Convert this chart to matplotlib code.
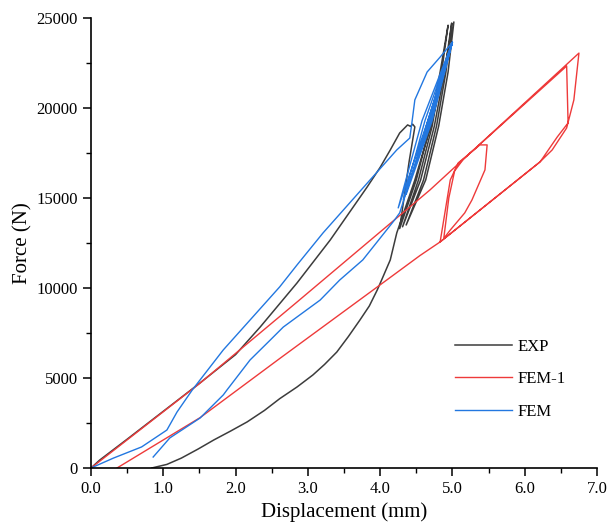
import matplotlib
matplotlib.use("Agg")
import matplotlib.pyplot as plt
from matplotlib.ticker import MultipleLocator, FormatStrFormatter

# ---- EXP (test): first loading, steep cycles, then final unloading ----
exp_x = [0.00, 0.12, 0.50, 1.00, 1.50, 2.00, 2.34, 2.85, 3.31, 3.82, 4.00, 4.14, 4.27, 4.38, 4.42, 4.45, 4.48,
         4.40, 4.33, 4.27,
         4.50, 4.69, 4.83, 4.94,
         4.85, 4.72, 4.53, 4.31,
         4.56, 4.75, 4.89, 4.99,
         4.91, 4.78, 4.60, 4.36,
         4.63, 4.81, 4.94, 5.02,
         4.88, 4.70, 4.48, 4.23,
         4.14, 4.02, 3.96, 3.85, 3.72, 3.56, 3.40, 3.23, 3.07, 2.85, 2.61, 2.40, 2.16, 1.93, 1.70, 1.48, 1.25, 1.05, 0.84]
exp_y = [0, 440, 1600, 3150, 4700, 6300, 7830, 10280, 12670, 15610, 16700, 17670, 18610, 19060, 18980, 19100, 18950,
         17000, 15000, 13300,
         16000, 19000, 22000, 24600,
         22000, 19000, 16000, 13400,
         16000, 19000, 22000, 24720,
         22000, 19000, 16000, 13500,
         16000, 19000, 22000, 24780,
         22000, 19000, 16000, 13060,
         11560, 10440, 9890, 9000, 8220, 7300, 6440, 5750, 5170, 4500, 3850, 3200, 2560, 2050, 1560, 1050, 550, 200, 0]

# ---- FEM-1 ----
fem1_x = [0.00, 1.51, 2.85, 4.69, 6.75,
          6.68, 6.58, 6.38, 6.21, 4.83,
          4.97, 5.08, 5.38, 5.48, 5.45, 5.27, 5.17, 4.97, 4.88,
          4.95, 5.03, 5.15, 6.58,
          6.60, 6.45, 6.25, 6.21, 4.83,
          4.55, 4.09, 2.61, 1.51, 0.36]
fem1_y = [0, 4720, 9220, 15450, 23050,
          20450, 18890, 17670, 17000, 12560,
          16000, 16950, 17950, 17950, 16560, 14890, 14170, 13220, 12750,
          15000, 16500, 17150, 22330,
          19170, 18390, 17220, 17000, 12560,
          11800, 10440, 6080, 2800, 0]

# ---- FEM ----
fem_x = [0.00, 0.31, 0.70, 1.05, 1.19, 1.40, 1.83, 2.20, 2.61, 2.85, 3.21, 3.86, 4.23, 4.41, 4.44, 4.48, 4.65, 4.83, 5.00,
         4.66, 4.25,
         4.58, 5.00,
         4.70, 4.32,
         4.62, 5.00,
         4.72, 4.36,
         4.66, 5.00,
         4.68, 4.27,
         4.20, 3.76, 3.44, 3.17, 2.85, 2.66, 2.48, 2.20, 2.02, 1.88, 1.83, 1.51, 1.09, 0.86]
fem_y = [0, 550, 1170, 2110, 3110, 4330, 6560, 8220, 10060, 11280, 13060, 16000, 17670, 18330, 19200, 20450, 22000, 22830, 23650,
         19300, 14450,
         19300, 23650,
         19300, 14900,
         19300, 23650,
         19300, 15200,
         19300, 23650,
         19300, 14170,
         13780, 11560, 10440, 9330, 8390, 7830, 7110, 6000, 5060, 4330, 4060, 2780, 1670, 610]

plt.rcParams.update({
    "font.family": ["Liberation Serif", "DejaVu Serif"],
    "axes.spines.top": False,
    "axes.spines.right": False,
})

fig = plt.figure(figsize=(6.08, 5.29), dpi=100)
ax = fig.add_axes([91 / 608, 1 - 468 / 529, 506 / 608, 450 / 529])

ax.plot(exp_x, exp_y, color="#3c3c3c", lw=1.1, label="EXP")
ax.plot(fem1_x, fem1_y, color="#ee3a3a", lw=1.0, label="FEM-1")
ax.plot(fem_x, fem_y, color="#2277e0", lw=1.0, label="FEM")

ax.set_xlim(0, 7)
ax.set_ylim(0, 25000)
ax.xaxis.set_major_locator(MultipleLocator(1.0))
ax.xaxis.set_minor_locator(MultipleLocator(0.5))
ax.xaxis.set_major_formatter(FormatStrFormatter("%.1f"))
ax.yaxis.set_major_locator(MultipleLocator(5000))
ax.yaxis.set_minor_locator(MultipleLocator(2500))
ax.tick_params(which="major", direction="out", length=6, width=1.1, labelsize=12)
ax.tick_params(which="minor", direction="out", length=3.5, width=1.0)
for s in ("left", "bottom"):
    ax.spines[s].set_linewidth(1.2)

ax.set_xlabel("Displacement (mm)", fontsize=15, labelpad=4)
ax.set_ylabel("Force (N)", fontsize=15, labelpad=3)

ax.legend(loc="upper left", bbox_to_anchor=(0.69, 0.321), frameon=False, fontsize=12,
          handlelength=3.4, labelspacing=1.0, handletextpad=0.35)

fig.savefig("out.png", dpi=100)
